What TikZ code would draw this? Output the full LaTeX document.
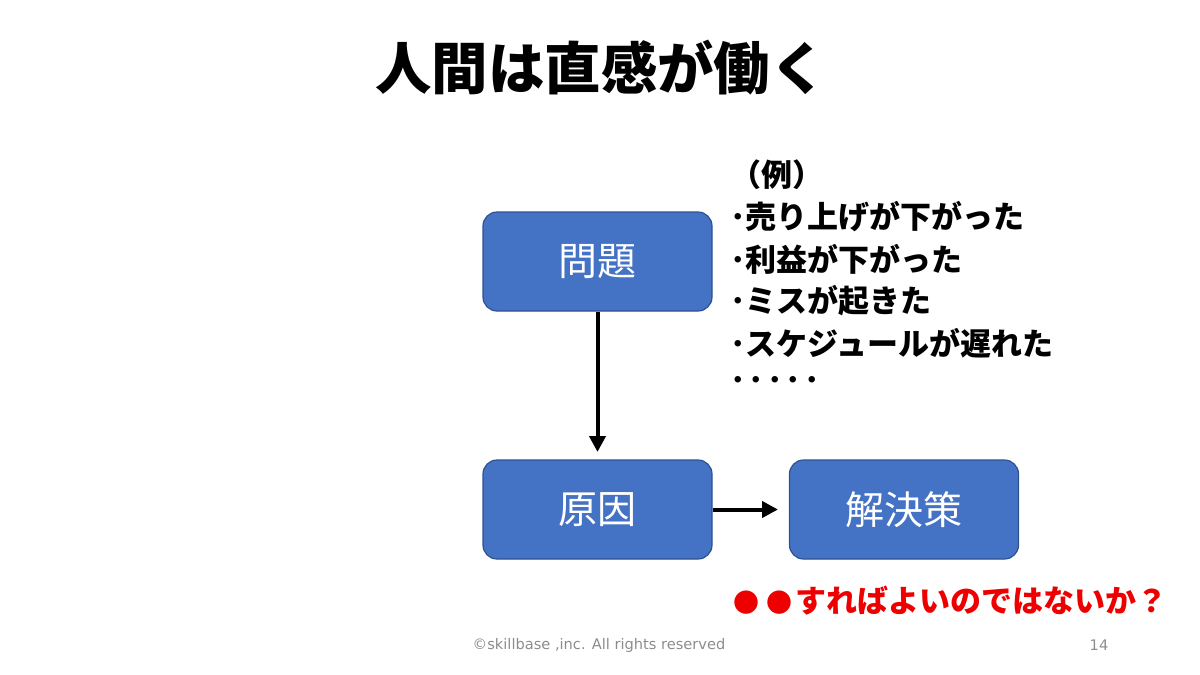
\documentclass[tikz,border=0pt]{standalone}
\usepackage{fontspec}
\newfontfamily\jp{Noto Sans CJK JP}
\newfontfamily\foot{DejaVu Sans}
\usetikzlibrary{arrows.meta}
\definecolor{boxblue}{HTML}{4472C4}
\definecolor{boxedge}{HTML}{2F528F}
\definecolor{alertred}{HTML}{EE0000}
\definecolor{footgray}{HTML}{8C8C8C}
\begin{document}
\begin{tikzpicture}[x=0.5pt,y=-0.5pt,
  box/.style={draw=boxedge, line width=0.6pt, fill=boxblue, rounded corners=7pt,
    minimum width=114.5pt, minimum height=49.5pt, text=white, inner sep=0pt,
    font=\jp\fontsize{19.5}{19.5}\selectfont},
  conn/.style={line width=2pt, -{Triangle[length=8pt,width=8pt]}},
  ex/.style={anchor=west, inner sep=0pt, font=\jp\bfseries\fontsize{15.5}{15.5}\selectfont},
  foottext/.style={text=footgray, inner sep=0pt, font=\foot\fontsize{7.3}{7.3}\selectfont}]
\useasboundingbox (0,0) rectangle (1200,675);
\node[inner sep=0pt, font=\jp\bfseries\fontsize{28.2}{28.2}\selectfont] (title) at (601,68) {人間は直感が働く};
\node[box] (mondai) at (597.5,261.5) {問題};
\node[box] (gen) at (597.5,509.5) {原因};
\node[box] (kai) at (904,509.5) {解決策};
\coordinate (vtip) at (597.5,452);
\coordinate (htip) at (778,509.5);
\draw[conn] (mondai.south) -- (vtip);
\draw[conn] (gen.east) -- (htip);
\node[ex] (ex0) at (730,175) {（例）};
\node[ex] (ex1) at (730,217) {･売り上げが下がった};
\node[ex] (ex2) at (730,259) {･利益が下がった};
\node[ex] (ex3) at (730,301) {･ミスが起きた};
\node[ex] (ex4) at (730,343) {･スケジュールが遅れた};
\node[ex] (ex5) at (730,384) {･\kern1.5pt･\kern1.5pt･\kern1.5pt･\kern1.5pt･};
\node[ex, text=alertred] (q) at (733,601) {{\fontsize{13}{13}\selectfont●\kern3.5pt●}\kern1.5pt すればよいのではないか？};
\node[foottext] (copy) at (599,645) {©skillbase ,inc. All rights reserved};
\node[foottext] (page) at (1099,645) {14};
\end{tikzpicture}
\end{document}
